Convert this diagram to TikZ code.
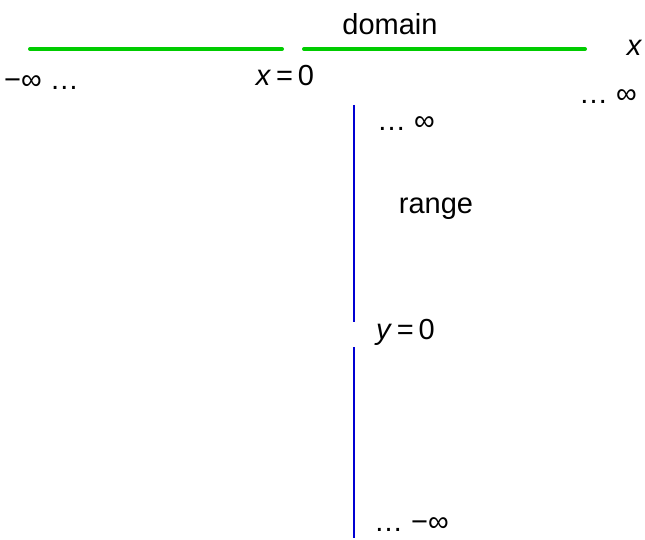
\documentclass[tikz,border=0pt]{standalone}
\usepackage{fontspec}
\setmainfont{Liberation Sans}
\begin{document}
\begin{tikzpicture}[x=1pt,y=-1pt,
  lbl/.style={inner sep=0pt,font=\fontsize{29}{33}\selectfont},
  domline/.style={draw={rgb,255:red,0;green,204;blue,0},line width=4pt,line cap=round},
  rngline/.style={draw={rgb,255:red,0;green,0;blue,210},line width=1.8pt}]
\useasboundingbox (0,0) rectangle (645,540);
% domain (green)
\coordinate (d1) at (30,49);
\coordinate (d2) at (282,49);
\coordinate (d3) at (304,49);
\coordinate (d4) at (585,49);
\draw[domline] (d1) -- (d2);
\draw[domline] (d3) -- (d4);
% range (blue)
\coordinate (r1) at (354,105);
\coordinate (r2) at (354,322);
\coordinate (r3) at (354,347);
\coordinate (r4) at (354,538);
\draw[rngline] (r1) -- (r2);
\draw[rngline] (r3) -- (r4);
% labels
\node[lbl] (dom) at (390,24) {domain};
\node[lbl] (xax) at (634,48) {\itshape x};
\node[lbl,anchor=west] (minf) at (4,83) {−∞ …};
\node[lbl] (x0) at (285,76) {\textit{x}\,=\,0};
\node[lbl,anchor=east] (pinf) at (637,97) {… ∞};
\node[lbl,anchor=west] (rtop) at (377,124) {… ∞};
\node[lbl] (rng) at (436,209) {range};
\node[lbl,anchor=west] (y0) at (376,332) {\textit{y}\,=\,0};
\node[lbl,anchor=west] (rbot) at (374,525) {… −∞};
\end{tikzpicture}
\end{document}
